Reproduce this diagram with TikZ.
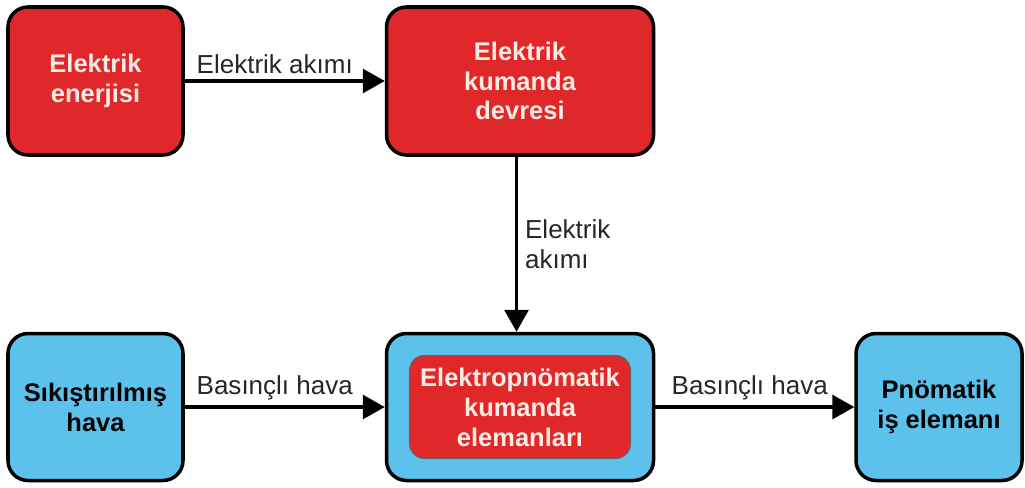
\documentclass[tikz,border=0pt]{standalone}
\usepackage{fontspec}
\setmainfont{Liberation Sans}
\usetikzlibrary{positioning, arrows.meta}
\definecolor{boxred}{RGB}{224,40,42}
\definecolor{boxblue}{RGB}{92,194,236}
\definecolor{redtext}{RGB}{250,236,226}

\begin{document}
\begin{tikzpicture}[
  redbox/.style={draw=black, rounded corners=4mm, line width=2pt, fill=boxred,
                 minimum height=2.96cm, align=center, text=redtext,
                 font=\fontsize{14.5}{17}\selectfont\bfseries},
  bluebox/.style={draw=black, rounded corners=4mm, line width=2pt, fill=boxblue,
                  minimum height=2.94cm, align=center, text=black,
                  font=\fontsize{14.5}{17}\selectfont\bfseries},
  innerbox/.style={draw=black!60, rounded corners=3mm, line width=0.6pt, fill=boxred,
                   minimum width=4.42cm, minimum height=2.06cm, align=center, text=redtext,
                   font=\fontsize{14.5}{17}\selectfont\bfseries},
  arr/.style={-{Triangle[length=0.44cm, width=0.48cm]}, line width=1.8pt, color=black},
  lbl/.style={font=\fontsize{14.8}{17.5}\selectfont, text=black!85, align=left, inner sep=3pt},
]

\useasboundingbox[fill=white] (0,0) rectangle (20.5,-9.76);

% ee: energy source
\node[redbox, minimum width=3.5cm] (ee) at (1.91,-1.62) {Elektrik\\enerjisi};

% ekd: electric control circuit
\node[redbox, minimum width=5.34cm, right=4.0cm of ee] (ekd) {Elektrik\\kumanda\\devresi};

% ekm: electro-pneumatic elements (outer blue box)
\node[bluebox, minimum width=5.34cm, below=3.5cm of ekd] (ekm) {};
\node[innerbox] (ekmin) at (ekm) {Elektropnömatik\\kumanda\\elemanları};

% sh: compressed air
\node[bluebox, minimum width=3.5cm, left=4.0cm of ekm] (sh) {Sıkıştırılmış\\hava};

% pie: pneumatic actuator
\node[bluebox, minimum width=3.32cm, right=3.98cm of ekm] (pie) {Pnömatik\\iş elemanı};

% flow arrows
\draw[arr] (ee) -- node[lbl, above, xshift=-0.2cm] {Elektrik akımı} (ekd);
\draw[arr] ([xshift=-0.07cm]ekd.south) -- node[lbl, right=1pt] {Elektrik\\akımı} ([xshift=-0.07cm]ekm.north);
\draw[arr] (sh) -- node[lbl, above, xshift=-0.2cm] {Basınçlı hava} (ekm);
\draw[arr] (ekm) -- node[lbl, above, xshift=-0.1cm] {Basınçlı hava} (pie);

\end{tikzpicture}
\end{document}
